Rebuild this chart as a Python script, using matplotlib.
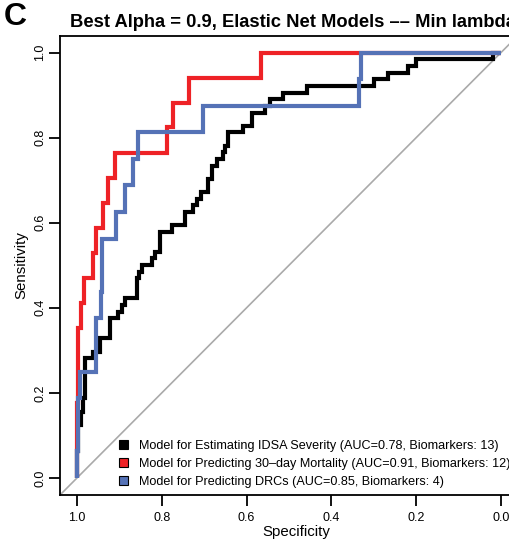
import matplotlib
matplotlib.use("Agg")
import matplotlib.pyplot as plt
from matplotlib.patches import Patch

plt.rcParams['font.family'] = ['Liberation Sans', 'DejaVu Sans']

# ---- data (vertices of the ROC step curves) ----
idsa_spec = [1.0, 1.0, 0.9965, 0.9906, 0.9847, 0.9811, 0.9611, 0.9458, 0.9222, 0.9026,
             0.8946, 0.8868, 0.8592, 0.8538, 0.8455, 0.8238, 0.8149, 0.8031, 0.7759,
             0.7441, 0.7257, 0.7170, 0.7075, 0.6903, 0.6823, 0.6705, 0.6557, 0.6509,
             0.6450, 0.6078, 0.5873, 0.5566, 0.5448, 0.5134, 0.4583, 0.2995, 0.2658,
             0.2186, 0.2017, 0.0182, 0.0]
idsa_sens = [0.0, 0.0625, 0.125, 0.156, 0.1875, 0.281, 0.297, 0.328, 0.375, 0.391,
             0.406, 0.422, 0.469, 0.484, 0.500, 0.516, 0.531, 0.578, 0.594,
             0.625, 0.641, 0.656, 0.672, 0.703, 0.734, 0.750, 0.766, 0.781,
             0.8125, 0.828, 0.859, 0.875, 0.891, 0.906, 0.922, 0.9375, 0.953,
             0.969, 0.984, 1.0, 1.0]

mort_spec = [1.0, 1.0, 0.9965, 0.9894, 0.9835, 0.9611, 0.9545, 0.9394, 0.9276, 0.9104,
             0.7884, 0.7729, 0.7351, 0.566, 0.0]
mort_sens = [0.0, 0.176, 0.353, 0.412, 0.471, 0.529, 0.588, 0.647, 0.706, 0.765,
             0.824, 0.882, 0.941, 1.0, 1.0]

drc_spec = [1.0, 1.0, 0.9965, 0.9929, 0.9552, 0.9441, 0.9399, 0.9087, 0.8856, 0.8686,
            0.8554, 0.7021, 0.3349, 0.3302, 0.0]
drc_sens = [0.0, 0.0625, 0.1875, 0.25, 0.375, 0.4375, 0.5625, 0.625, 0.6875, 0.75,
            0.8125, 0.875, 0.9375, 1.0, 1.0]

labels = ["Model for Estimating IDSA Severity (AUC=0.78, Biomarkers: 13)",
          "Model for Predicting 30\u2013day Mortality (AUC=0.91, Biomarkers: 12)",
          "Model for Predicting DRCs (AUC=0.85, Biomarkers: 4)"]
colors = ["#000000", "#EE2226", "#5572B6"]
ticks = [1.0, 0.8, 0.6, 0.4, 0.2, 0.0]
tick_labels = ["1.0", "0.8", "0.6", "0.4", "0.2", "0.0"]

title = "Best Alpha = 0.9, Elastic Net Models \u2013\u2013 Min lambda"

# ---- figure ----
W, H = 509, 539
fig = plt.figure(figsize=(W / 100, H / 100), dpi=100)
ax = fig.add_axes([60 / W, 44 / H, 458 / W, 459.5 / H])
ax.set_xlim(1.04, -0.04)
ax.set_ylim(-0.04, 1.04)

ax.axline((1.0, 0.0), (0.0, 1.0), color="#AAAAAA", lw=1.2, zorder=1)

for sx, sy, c in [(idsa_spec, idsa_sens, colors[0]),
                  (mort_spec, mort_sens, colors[1]),
                  (drc_spec, drc_sens, colors[2])]:
    ax.plot(sx, sy, drawstyle="steps-post", color=c, lw=3.0,
            solid_joinstyle="miter", solid_capstyle="butt", zorder=2)

for s in ax.spines.values():
    s.set_linewidth(1.3)

ax.set_xticks(ticks)
ax.set_xticklabels(tick_labels)
ax.set_yticks(ticks)
ax.set_yticklabels(tick_labels, rotation=90, va="center")
ax.tick_params(direction="out", length=8, width=1.3, labelsize=9)
ax.tick_params(axis="y", pad=2)
ax.tick_params(axis="x", pad=4)

ax.set_xlabel("Specificity", fontsize=10.8)
ax.xaxis.set_label_coords((296 - 60) / 458, -(532 - 495) / 459.5)
ax.xaxis.label.set_va("center")
ax.set_ylabel("Sensitivity", fontsize=10.8)
ax.yaxis.set_label_coords(-(60 - 21) / 458, 0.5)
ax.yaxis.label.set_va("center")

handles = [Patch(facecolor=c, edgecolor="black", linewidth=0.8) for c in colors]
fig.legend(handles, labels, loc="upper left",
           bbox_to_anchor=(119 / W, 1 - 439.5 / H), frameon=False,
           fontsize=9.1, handlelength=0.72, handleheight=0.72,
           handletextpad=0.9, labelspacing=0.5, borderpad=0, borderaxespad=0)

fig.text(70 / W, 1 - 26.7 / H, title, fontsize=13.2, fontweight="bold",
         ha="left", va="baseline")
fig.text(4 / W, 1 - 25 / H, "C", fontsize=23, fontweight="bold",
         ha="left", va="baseline")

fig.savefig("out.png", dpi=100)
